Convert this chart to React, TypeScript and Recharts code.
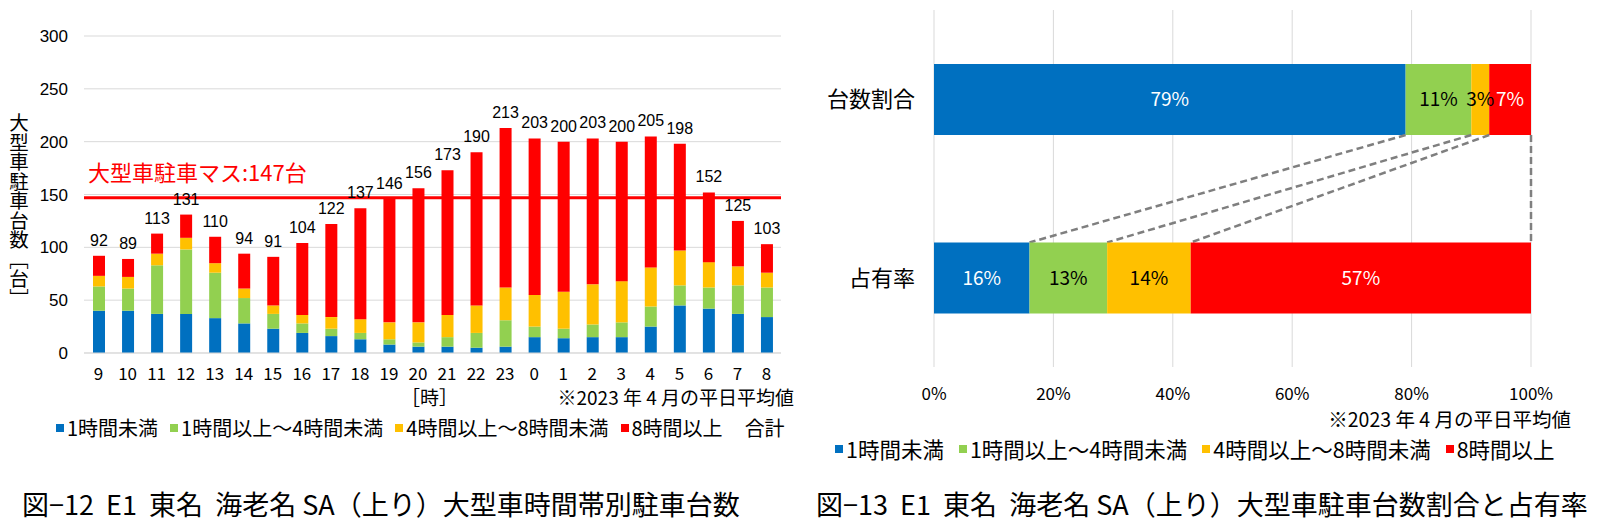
import React from 'react';
import {
  BarChart,
  Bar,
  XAxis,
  YAxis,
  CartesianGrid,
  ReferenceLine,
  LabelList
} from 'recharts';

// 図-12: hourly parked large vehicles, by parking duration
const hours = ['9', '10', '11', '12', '13', '14', '15', '16', '17', '18', '19', '20', '21', '22', '23', '0', '1', '2', '3', '4', '5', '6', '7', '8'];
const under1h = [40, 40, 37, 37, 33, 28, 23, 19, 16, 13, 8, 6, 6, 5, 6, 15, 14, 15, 15, 25, 45, 42, 37, 34];
const from1to4h = [23, 21, 46, 61, 43, 24, 14, 9, 7, 6, 5, 4, 9, 14, 25, 10, 9, 12, 14, 19, 19, 20, 27, 28];
const from4to8h = [10, 11, 11, 11, 9, 9, 8, 8, 11, 13, 16, 19, 21, 26, 31, 30, 35, 38, 39, 37, 33, 24, 18, 14];
const over8h = [19, 17, 19, 22, 25, 33, 46, 68, 88, 105, 117, 127, 137, 145, 151, 148, 142, 138, 132, 124, 101, 66, 43, 27];
const totals = [92, 89, 113, 131, 110, 94, 91, 104, 122, 137, 146, 156, 173, 190, 213, 203, 200, 203, 200, 205, 198, 152, 125, 103];
const countTicks = [0, 50, 100, 150, 200, 250, 300];
const capacity = 147;

// 図-13: share of vehicles and occupancy, by parking duration
const shareRows = ['台数割合', '占有率'];
const shareUnder1h = [79, 16];
const share1to4h = [11, 13];
const share4to8h = [3, 14];
const shareOver8h = [7, 57];
const pctTicks = [0, 20, 40, 60, 80, 100];

const seriesNames = ['1時間未満', '1時間以上～4時間未満', '4時間以上～8時間未満', '8時間以上'];
const seriesColors = ['#0070C0', '#92D050', '#FFC000', '#FF0000'];
const shareLabelColors = ['#fff', '#000', '#000', '#fff'];

const hourlyData = hours.map((h, i) => ({
  hour: h,
  u1: under1h[i],
  h14: from1to4h[i],
  h48: from4to8h[i],
  o8: over8h[i],
  total: totals[i]
}));

const shareData = shareRows.map((r, i) => ({
  row: r,
  u1: shareUnder1h[i],
  h14: share1to4h[i],
  h48: share4to8h[i],
  o8: shareOver8h[i]
}));

const keys = ['u1', 'h14', 'h48', 'o8'];

const JP = "'Noto Sans CJK JP', sans-serif";
const NARROW = "'Liberation Sans Narrow', 'Noto Sans CJK JP', sans-serif";
const ARIAL = "'Liberation Sans', 'Noto Sans CJK JP', sans-serif";

// remembers where the first row's segments end, so the second row can draw the dashed guide
const rowEnds: Record<string, { x: number; y: number }> = {};

const connectorShape = (key: string, fill: string) => (props: any) => {
  const { x, y, width, height, index } = props;
  let guide = null;
  if (index === 0) {
    rowEnds[key] = { x: x + width, y: y + height };
  } else if (rowEnds[key]) {
    guide = (
      <line
        x1={rowEnds[key].x}
        y1={rowEnds[key].y}
        x2={x + width}
        y2={y}
        stroke="#7f7f7f"
        strokeWidth={2.5}
        strokeDasharray="7 4"
      />
    );
  }
  return (
    <g>
      <rect x={x} y={y} width={width} height={height} fill={fill} />
      {guide}
    </g>
  );
};

function Txt({ x, y, size, children, right, font = NARROW, color = '#000', style = {} }: any) {
  const pos: any = right ? { right: 1600 - x } : { left: x };
  return (
    <div
      style={{
        position: 'absolute',
        top: y - size / 2,
        ...pos,
        fontSize: size,
        lineHeight: 1,
        fontFamily: font,
        color,
        whiteSpace: 'pre',
        ...style
      }}
    >
      {children}
    </div>
  );
}

function LegendRow({ x, y, size, gap, withTotal }: any) {
  return (
    <div
      style={{
        position: 'absolute',
        left: x,
        top: y - size / 2,
        display: 'flex',
        alignItems: 'center',
        fontFamily: NARROW,
        fontSize: size,
        lineHeight: 1,
        whiteSpace: 'nowrap'
      }}
    >
      {seriesNames.map((n, i) => (
        <div key={n} style={{ display: 'flex', alignItems: 'center', marginRight: gap }}>
          <span style={{ width: 8, height: 8, background: seriesColors[i], marginRight: 3, display: 'inline-block' }} />
          <span>{n}</span>
        </div>
      ))}
      {withTotal && <span style={{ marginLeft: 10 }}>合計</span>}
    </div>
  );
}

export default function App() {
  return (
    <div style={{ position: 'absolute', left: 0, top: 0, width: 1600, height: 526, background: '#fff', overflow: 'hidden' }}>
      {/* 図-12 */}
      <div style={{ position: 'absolute', left: 0, top: 0 }}>
        <BarChart width={800} height={400} data={hourlyData} margin={{ top: 36, right: 19, left: 0, bottom: 17 }}>
          <CartesianGrid vertical={false} stroke="#d9d9d9" />
          <XAxis
            dataKey="hour"
            interval={0}
            axisLine={{ stroke: '#d9d9d9' }}
            tickLine={false}
            tickMargin={9}
            height={30}
            tick={{ fill: '#000', fontSize: 17, fontFamily: NARROW }}
          />
          <YAxis
            width={84}
            domain={[0, 300]}
            ticks={countTicks}
            axisLine={false}
            tickLine={false}
            tickMargin={10}
            tick={{ fill: '#000', fontSize: 17, fontFamily: ARIAL }}
          />
          {keys.map((k, i) => (
            <Bar key={k} dataKey={k} stackId="a" fill={seriesColors[i]} barSize={12} isAnimationActive={false}>
              {k === 'o8' && (
                <LabelList dataKey="total" position="top" offset={10} fill="#000" fontSize={16} fontFamily={ARIAL} />
              )}
            </Bar>
          ))}
          <ReferenceLine
            y={capacity}
            stroke="#FF0000"
            strokeWidth={3}
            label={(p: any) => (
              <text x={p.viewBox.x + 4} y={p.viewBox.y - 17} fill="#FF0000" fontSize={22} fontFamily={JP}>
                {`大型車駐車マス:${capacity}台`}
              </text>
            )}
          />
        </BarChart>
      </div>
      <div
        style={{
          position: 'absolute',
          left: 9,
          top: 113,
          writingMode: 'vertical-rl',
          fontFamily: JP,
          fontSize: 19.5,
          lineHeight: 1,
          color: '#000'
        }}
      >
        大型車駐車台数［台］
      </div>
      <Txt x={401} y={396} size={19}>［時］</Txt>
      <Txt x={794} y={396} size={19} right>※2023 年 4 月の平日平均値</Txt>
      <LegendRow x={56} y={428} size={20} gap={12} withTotal />
      <Txt x={22} y={503} size={27} font={NARROW}>図−12  E1  東名  海老名 SA（上り）大型車時間帯別駐車台数</Txt>

      {/* 図-13 */}
      <div style={{ position: 'absolute', left: 800, top: 0 }}>
        <BarChart
          layout="vertical"
          width={800}
          height={420}
          data={shareData}
          margin={{ top: 10, right: 69, left: 0, bottom: 23 }}
        >
          <CartesianGrid horizontal={false} stroke="#d9d9d9" />
          <XAxis
            type="number"
            domain={[0, 100]}
            ticks={pctTicks}
            tickFormatter={(v: number) => `${v}%`}
            axisLine={false}
            tickLine={false}
            tickMargin={15}
            height={30}
            tick={{ fill: '#000', fontSize: 17, fontFamily: NARROW }}
          />
          <YAxis
            type="category"
            dataKey="row"
            width={134}
            axisLine={false}
            tickLine={false}
            tickMargin={13}
            tick={{ fill: '#000', fontSize: 22, fontFamily: JP }}
          />
          {keys.map((k, i) => (
            <Bar
              key={k}
              dataKey={k}
              stackId="s"
              fill={seriesColors[i]}
              barSize={71}
              isAnimationActive={false}
              shape={connectorShape(k, seriesColors[i])}
            >
              <LabelList
                dataKey={k}
                position="center"
                formatter={(v: any) => `${v}%`}
                fill={shareLabelColors[i]}
                fontSize={19}
                fontFamily={NARROW}
              />
            </Bar>
          ))}
        </BarChart>
      </div>
      <Txt x={1571} y={419} size={19.5} right>※2023 年 4 月の平日平均値</Txt>
      <LegendRow x={835} y={449} size={21.5} gap={15} />
      <Txt x={816} y={503} size={27} font={NARROW}>図−13  E1  東名  海老名 SA（上り）大型車駐車台数割合と占有率</Txt>
    </div>
  );
}
